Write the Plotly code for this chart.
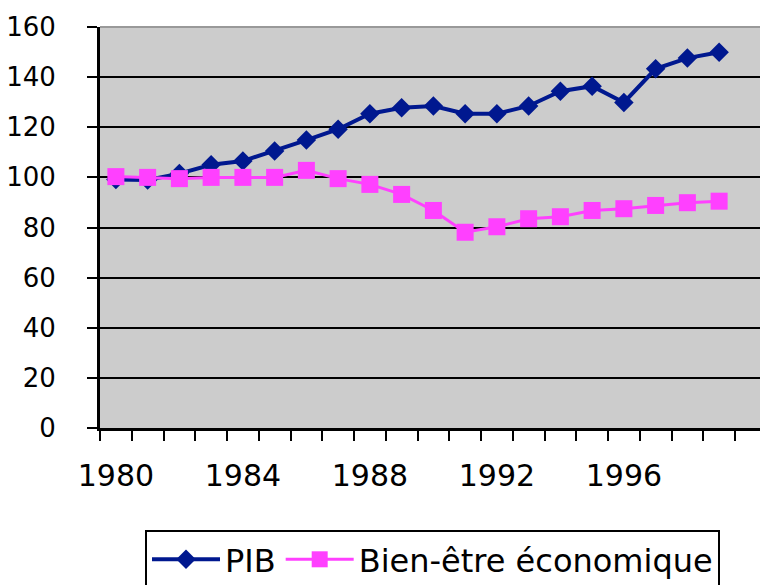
import plotly.graph_objects as go

years = list(range(1980, 2000))
pib = [99.2, 99.0, 101.5, 105.0, 106.5, 110.5, 114.9, 119.2, 125.4, 127.8,
       128.5, 125.4, 125.4, 128.5, 134.4, 136.4, 129.9, 143.3, 147.6, 149.9]
bien_etre = [100.3, 100.0, 99.5, 100.0, 100.0, 100.0, 102.8, 99.5, 97.2, 93.2,
             86.8, 78.1, 80.3, 83.5, 84.3, 86.8, 87.5, 88.8, 89.9, 90.5]
x_tick_labels = ["1980", "1984", "1988", "1992", "1996"]
x_tick_vals = [1980, 1984, 1988, 1992, 1996]
y_ticks = [0, 20, 40, 60, 80, 100, 120, 140, 160]

FONT = "DejaVu Sans"

fig = go.Figure()
fig.add_trace(go.Scatter(
    x=years, y=pib, name="PIB", mode="lines+markers",
    line=dict(color="#00188F", width=4),
    marker=dict(symbol="diamond", size=15, color="#00188F"),
))
fig.add_trace(go.Scatter(
    x=years, y=bien_etre, name="Bien-être économique", mode="lines+markers",
    line=dict(color="#FF40FF", width=3),
    marker=dict(symbol="square", size=17, color="#FF40FF"),
))

fig.update_layout(
    width=760, height=585,
    margin=dict(l=100, r=0, t=27, b=157, autoexpand=False),
    paper_bgcolor="white",
    plot_bgcolor="#CCCCCC",
    font=dict(family=FONT, size=30, color="black"),
    showlegend=True,
    legend=dict(
        orientation="h", x=(145 - 100) / 660, xanchor="left",
        y=-(530 - 428) / 401, yanchor="top",
        bordercolor="black", borderwidth=2, bgcolor="white",
        font=dict(family=FONT, size=32, color="black"),
        itemwidth=68,
    ),
    xaxis=dict(
        range=[1979.5, 1979.5 + 660 / 31.75],
        tickmode="array", tickvals=x_tick_vals, ticktext=x_tick_labels,
        ticks="", showgrid=False, zeroline=False, automargin=False,
        showline=True, linecolor="black", linewidth=3,
        tickfont=dict(family=FONT, size=30),
        ticklabelstandoff=19,
        minor=dict(ticks="outside", ticklen=10, tickwidth=2, tickcolor="black",
                   tick0=1979.5, dtick=1, showgrid=False),
    ),
    yaxis=dict(
        range=[0, 160],
        tickmode="array", tickvals=y_ticks,
        ticks="outside", ticklen=10, tickwidth=2, tickcolor="black",
        showgrid=False, zeroline=False, automargin=False,
        showline=True, linecolor="black", linewidth=3,
        tickfont=dict(family=FONT, size=26),
        ticklabelstandoff=26,
        minor=dict(tickvals=y_ticks[1:-1], showgrid=True, gridcolor="black",
                   gridwidth=2, ticks=""),
    ),
    shapes=[dict(type="line", xref="paper", yref="paper", x0=0, x1=1, y0=1, y1=1,
                 line=dict(color="#999999", width=2), layer="below")],
)

fig.write_html(
    "out.html",
    config={"displayModeBar": False},
    post_script="document.body.style.margin='0';document.body.style.padding='0';"
                "document.body.style.overflow='hidden';",
)
